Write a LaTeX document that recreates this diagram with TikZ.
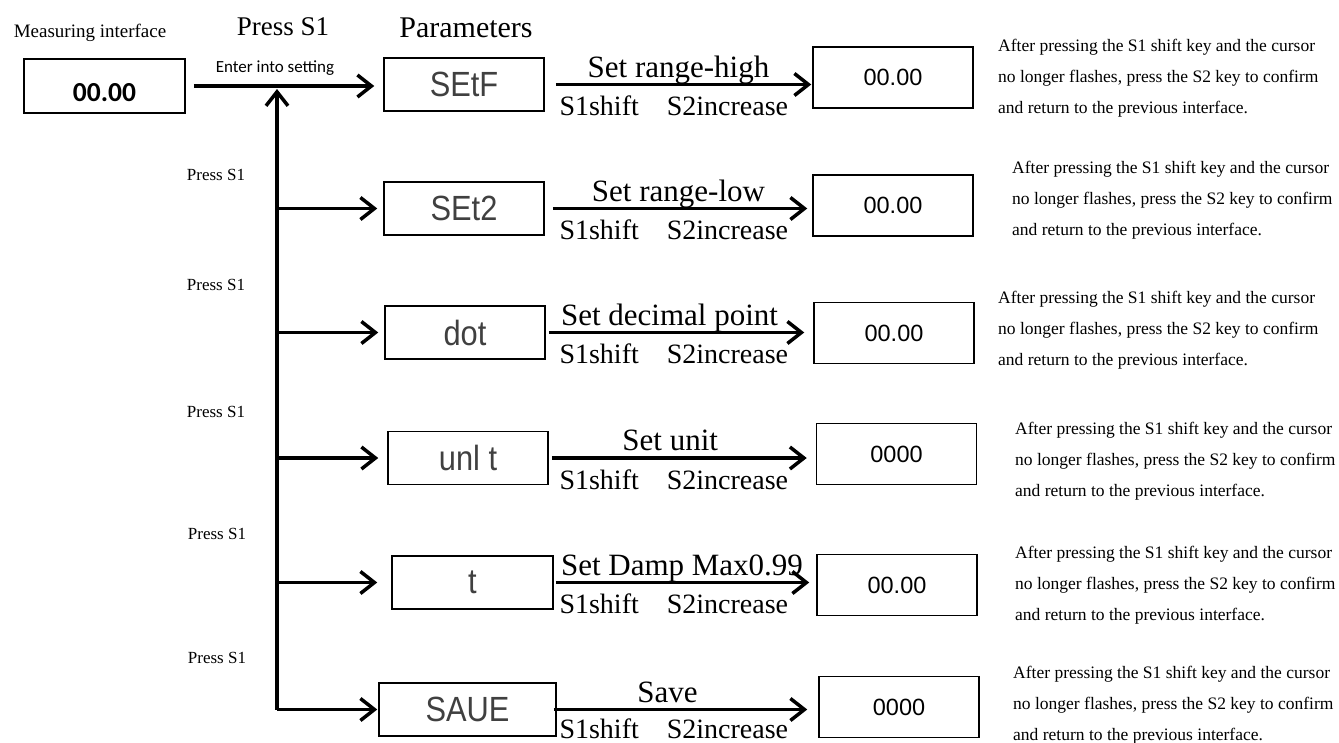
\documentclass[tikz,border=0pt]{standalone}
\usepackage{fontspec}
\setmainfont{Liberation Serif}
\newfontfamily\calibrifont{Carlito}
\newfontfamily\arialfont{Liberation Sans}
\newfontfamily\segfont[FakeStretch=0.88]{Liberation Sans}
\usetikzlibrary{arrows.meta}

\begin{document}
\begin{tikzpicture}[x=1pt,y=-1pt]
        \tikzstyle{screen}=[draw,line width=1.5pt,minimum width=160pt,minimum height=53pt,inner sep=0pt,text=black!75,font=\segfont\fontsize{35}{35}\selectfont]
        \tikzstyle{value}=[draw,line width=1.5pt,minimum width=160pt,minimum height=61pt,inner sep=0pt,font=\arialfont\fontsize{23.5}{23.5}\selectfont]
        \tikzstyle{flow}=[draw,line width=3.5pt,-{Straight Barb[length=14pt,width=22pt]}]
        \tikzstyle{setlabel}=[anchor=base,inner sep=0pt,yshift=7.5pt,font=\fontsize{31}{31}\selectfont]
        \tikzstyle{keylabel}=[pos=0,anchor=base west,inner sep=0pt,yshift=-31pt,font=\fontsize{28}{28}\selectfont]
        \tikzstyle{press}=[inner sep=0pt,font=\fontsize{17}{17}\selectfont]
        \tikzstyle{note}=[anchor=west,align=left,inner sep=0pt,font=\fontsize{17.5}{31}\selectfont]
        \useasboundingbox (0,0) rectangle (1339,742);

        % headings
        \node [inner sep=0pt,font=\fontsize{19}{19}\selectfont] (mtitle) at (90,33) {Measuring interface};
        \node [inner sep=0pt,font=\fontsize{27}{27}\selectfont] (ptitle) at (283,27) {Press S1};
        \node [inner sep=0pt,font=\fontsize{30}{30}\selectfont] (partitle) at (466,28) {Parameters};
        \node [inner sep=0pt,font=\calibrifont\fontsize{17}{17}\selectfont] (enter) at (275,68) {Enter into setting};

        % measuring interface
        \node [draw,line width=1.5pt,minimum width=161pt,minimum height=54pt,inner sep=0pt,text height=31pt,text depth=0pt,font=\calibrifont\bfseries\fontsize{27.5}{27.5}\selectfont] (meas) at (104.5,86) {00.00};

        % parameter screens
        \node [screen] (p1) at (464,84.5) {SEtF};
        \node [screen] (p2) at (464,208.5) {SEt2};
        \node [screen] (p3) at (465,332.5) {dot};
        \node [screen] (p4) at (468,458) {unl t};
        \node [screen,minimum width=161pt] (p5) at (472.5,582.5) {t};
        \node [screen,minimum width=177pt] (p6) at (467.5,709.5) {SAUE};

        % values
        \node [value] (r1) at (893,77.5) {00.00};
        \node [value] (r2) at (893,205.5) {00.00};
        \node [value] (r3) at (894,333) {00.00};
        \node [value] (r4) at (896.5,454) {0000};
        \node [value] (r5) at (897,585) {00.00};
        \node [value] (r6) at (899,707) {0000};

        % press S1 labels
        \node [press] (k2) at (216,175) {Press S1};
        \node [press] (k3) at (216,285) {Press S1};
        \node [press] (k4) at (216,412) {Press S1};
        \node [press] (k5) at (217,534) {Press S1};
        \node [press] (k6) at (217,658) {Press S1};

        % notes
        \node [note] (n1) at (998,78) {After pressing the S1 shift key and the cursor\\no longer flashes, press the S2 key to confirm\\and return to the previous interface.};
        \node [note] (n2) at (1012,200) {After pressing the S1 shift key and the cursor\\no longer flashes, press the S2 key to confirm\\and return to the previous interface.};
        \node [note] (n3) at (998,330) {After pressing the S1 shift key and the cursor\\no longer flashes, press the S2 key to confirm\\and return to the previous interface.};
        \node [note] (n4) at (1015,461) {After pressing the S1 shift key and the cursor\\no longer flashes, press the S2 key to confirm\\and return to the previous interface.};
        \node [note] (n5) at (1015,585) {After pressing the S1 shift key and the cursor\\no longer flashes, press the S2 key to confirm\\and return to the previous interface.};
        \node [note] (n6) at (1013,705) {After pressing the S1 shift key and the cursor\\no longer flashes, press the S2 key to confirm\\and return to the previous interface.};

        % bus
        \coordinate (join) at (277,88);
        \path (meas.east) edge [flow,shorten <=8pt,shorten >=9pt] (meas.east -| p1.west);
        \path (p6.west -| join) edge [flow,shorten >=1pt] (join);
        \path (p2.west -| join) edge [flow,shorten >=6pt] (p2.west);
        \path (p3.west -| join) edge [flow,shorten >=6pt] (p3.west);
        \path (p4.west -| join) edge [flow,shorten >=9pt] (p4.west);
        \path (p5.west -| join) edge [flow,shorten >=14pt] (p5.west);
        \path (p6.west -| join) edge [flow,shorten >=1pt] (p6.west);

        % settings
        \path (p1.east) edge [flow,shorten <=11pt,shorten >=1pt] node[setlabel] {Set range-high} node[keylabel,xshift=13pt] {S1shift\quad S2increase} (p1.east -| r1.west);
        \path (p2.east) edge [flow,shorten <=8pt,shorten >=5pt] node[setlabel] {Set range-low} node[keylabel,xshift=13pt] {S1shift\quad S2increase} (p2.east -| r2.west);
        \path (p3.east) edge [flow,shorten <=3pt,shorten >=9pt] node[setlabel,xshift=-10pt] {Set decimal point} node[keylabel,xshift=12pt] {S1shift\quad S2increase} (p3.east -| r3.west);
        \path (p4.east) edge [flow,shorten <=3pt,shorten >=9pt] node[setlabel,xshift=-12pt] {Set unit} node[keylabel,xshift=9pt] {S1shift\quad S2increase} (p4.east -| r4.west);
        \path (p5.east) edge [flow,shorten <=2pt,shorten >=7pt] node[setlabel,xshift=-3pt] {Set Damp Max0.99} node[keylabel,xshift=4pt] {S1shift\quad S2increase} (p5.east -| r5.west);
        \path (p6.east) edge [flow,shorten <=-3pt,shorten >=11pt] node[setlabel,xshift=-20pt] {Save} node[keylabel,xshift=1pt,yshift=2pt] {S1shift\quad S2increase} (p6.east -| r6.west);
\end{tikzpicture}
\end{document}
